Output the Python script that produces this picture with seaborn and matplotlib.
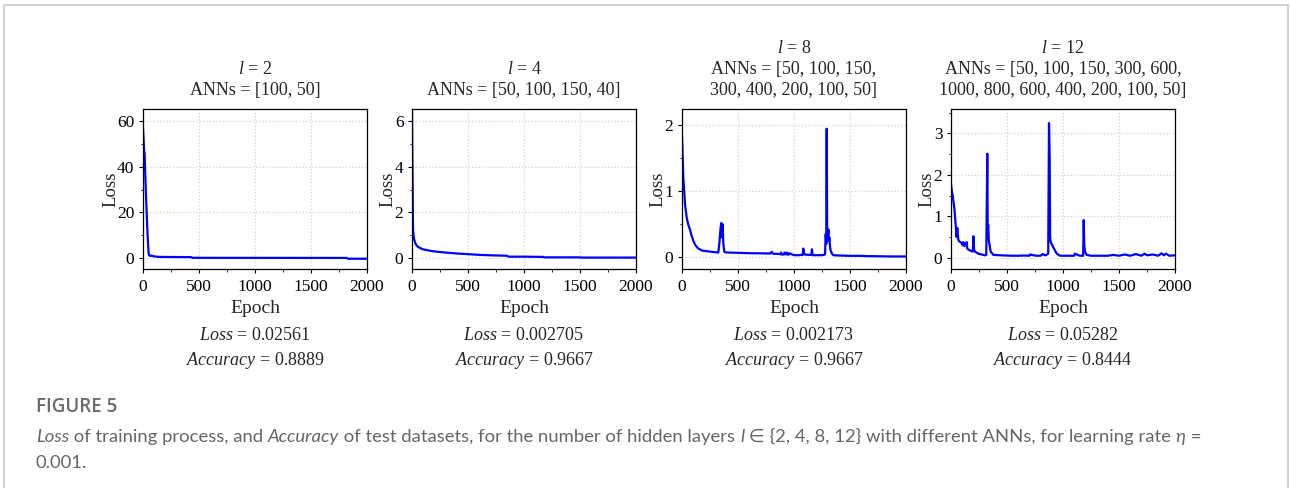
import matplotlib
matplotlib.use("Agg")
import matplotlib.pyplot as plt
import seaborn as sns
import pandas as pd
from matplotlib.ticker import MultipleLocator
from matplotlib.lines import Line2D
from matplotlib.font_manager import FontProperties

# ---------------- data ----------------
ep_l2 = [0, 5, 10, 14, 20, 27, 35, 42, 50, 55, 60, 80, 90, 120, 150, 250, 430, 440, 1000, 1820, 1830, 2000]
loss_l2 = [57.0, 52.0, 47.0, 46.0, 37.0, 27.0, 17.0, 9.0, 2.3, 1.2, 1.0, 1.0, 0.8, 0.6, 0.5, 0.45, 0.4, 0.1, 0.08, 0.05, -0.3, -0.3]

ep_l4 = [0, 2, 4, 6, 8, 10, 15, 20, 30, 40, 60, 80, 100, 150, 200, 300, 400, 500, 600, 700, 850, 860, 1000, 1170, 1180, 1500, 1510, 2000]
loss_l4 = [6.5, 5.0, 4.1, 3.0, 1.7, 1.2, 0.95, 0.8, 0.65, 0.55, 0.47, 0.42, 0.38, 0.33, 0.29, 0.24, 0.2, 0.17, 0.14, 0.12, 0.1, 0.06, 0.06, 0.05, 0.03, 0.03, 0.02, 0.02]

ep_l8 = [0, 6, 12, 20, 27, 42, 55, 71, 85, 101, 120, 146, 180, 220, 270, 324, 333, 340, 345, 351, 357, 363, 369, 378, 400, 450, 518,
         600, 700, 790, 800, 815, 850, 880, 885, 890, 910, 915, 930, 935, 950, 955, 1000, 1040, 1078, 1083, 1090, 1095, 1130, 1155, 1160,
         1166, 1200, 1250, 1277, 1283, 1288, 1292, 1296, 1300, 1307, 1312, 1316, 1322, 1327, 1340, 1351, 1400, 1500, 1600, 1650, 1700, 1800, 1900, 2000]
loss_l8 = [1.84, 1.53, 1.2, 1.0, 0.8, 0.6, 0.5, 0.42, 0.33, 0.25, 0.18, 0.13, 0.1, 0.09, 0.08, 0.07, 0.2, 0.35, 0.45, 0.52, 0.3, 0.5, 0.2, 0.08, 0.07, 0.068, 0.065,
           0.06, 0.058, 0.055, 0.08, 0.05, 0.05, 0.045, 0.07, 0.04, 0.04, 0.07, 0.04, 0.07, 0.035, 0.06, 0.03, 0.03, 0.035, 0.13, 0.06, 0.04, 0.035, 0.035, 0.12,
           0.03, 0.03, 0.03, 0.04, 0.35, 0.2, 1.95, 0.3, 0.25, 0.42, 0.25, 0.3, 0.15, 0.1, 0.05, 0.03, 0.025, 0.02, 0.02, 0.015, 0.015, 0.012, 0.01, 0.01]

ep_l12 = [0, 8, 15, 30, 42, 50, 56, 60, 65, 71, 85, 95, 105, 110, 120, 130, 140, 145, 155, 175, 195, 200, 206, 214, 244, 275, 304, 315,
          324, 328, 332, 338, 342, 354, 378, 450, 542, 600, 650, 700, 705, 760, 800, 820, 839, 850, 868, 875, 881, 885, 890, 914, 944,
          973, 1050, 1100, 1105, 1150, 1180, 1185, 1190, 1196, 1211, 1250, 1300, 1400, 1450, 1500, 1550, 1600, 1650, 1700, 1730, 1750,
          1800, 1850, 1880, 1900, 1920, 1950, 2000]
loss_l12 = [1.78, 1.6, 1.5, 1.19, 0.79, 0.5, 0.72, 0.6, 0.45, 0.4, 0.38, 0.35, 0.3, 0.38, 0.28, 0.33, 0.38, 0.22, 0.2, 0.17, 0.15, 0.52, 0.2, 0.15, 0.1, 0.08, 0.06, 0.07,
            2.51, 0.6, 0.79, 0.4, 0.35, 0.15, 0.07, 0.06, 0.05, 0.05, 0.055, 0.05, 0.08, 0.05, 0.05, 0.09, 0.06, 0.07, 0.1, 3.25, 2.43, 0.5, 0.38, 0.25, 0.1,
            0.05, 0.05, 0.05, 0.1, 0.05, 0.05, 0.91, 0.3, 0.15, 0.07, 0.05, 0.05, 0.05, 0.07, 0.05, 0.08, 0.05, 0.09, 0.05, 0.1, 0.06,
            0.08, 0.05, 0.11, 0.06, 0.1, 0.05, 0.06]

layers = [2, 4, 8, 12]
anns_text = ["ANNs = [100, 50]",
             "ANNs = [50, 100, 150, 40]",
             "ANNs = [50, 100, 150,\n300, 400, 200, 100, 50]",
             "ANNs = [50, 100, 150, 300, 600,\n1000, 800, 600, 400, 200, 100, 50]"]
final_loss = ["0.02561", "0.002705", "0.002173", "0.05282"]
accuracy = ["0.8889", "0.9667", "0.9667", "0.8444"]
epochs_all = [ep_l2, ep_l4, ep_l8, ep_l12]
losses_all = [loss_l2, loss_l4, loss_l8, loss_l12]
ylims = [(-4.8, 65.3), (-0.48, 6.53), (-0.18, 2.25), (-0.27, 3.59)]
ysteps = [20, 2, 1, 1]

# ---------------- style ----------------
sns.set_theme(style="ticks")
plt.rcParams["font.family"] = ["Liberation Serif", "DejaVu Serif"]
plt.rcParams["mathtext.fontset"] = "custom"
plt.rcParams["mathtext.rm"] = "Liberation Serif"
plt.rcParams["mathtext.it"] = "Liberation Serif:italic"

W, H = 1290, 488
fig = plt.figure(figsize=(W / 100, H / 100), dpi=100)
fig.patch.set_facecolor("white")

lefts = [143, 412, 682, 951]
top_px, bot_px, width_px = 109, 269, 224

for i in range(4):
    l = lefts[i]
    ax = fig.add_axes([l / W, 1 - bot_px / H, width_px / W, (bot_px - top_px) / H])
    df = pd.DataFrame({"Epoch": epochs_all[i], "Loss": losses_all[i]})
    sns.lineplot(data=df, x="Epoch", y="Loss", ax=ax, color="#0000ff", linewidth=1.6,
                 estimator=None, sort=False)
    ax.set_xlim(0, 2000)
    ax.set_ylim(*ylims[i])
    ax.xaxis.set_major_locator(MultipleLocator(500))
    ax.xaxis.set_minor_locator(MultipleLocator(250))
    ax.yaxis.set_major_locator(MultipleLocator(ysteps[i]))
    ax.yaxis.set_minor_locator(MultipleLocator(ysteps[i] / 2))
    ax.grid(True, which="major", color="#d4d4d4", linestyle=":", linewidth=0.9)
    ax.tick_params(which="major", direction="out", length=3.2, width=0.8, labelsize=12.5,
                   pad=3, colors="black")
    ax.tick_params(axis="x", which="major", pad=3.8)
    ax.tick_params(which="minor", direction="out", length=1.8, width=0.7)
    for s in ax.spines.values():
        s.set_visible(True)
        s.set_color("black")
        s.set_linewidth(0.9)
    ax.set_xlabel("Epoch", fontsize=14, labelpad=4)
    ax.set_ylabel("Loss", fontsize=13.5, labelpad=-1.5)
    ax.annotate(f"$l$ = {layers[i]}\n{anns_text[i]}", xy=(0.5, 1), xycoords="axes fraction",
                xytext=(0, 7), textcoords="offset points", ha="center", va="bottom",
                fontsize=13, linespacing=1.3)
    ax.annotate(f"$Loss$ = {final_loss[i]}", xy=(0.5, 0), xycoords="axes fraction",
                xytext=(0, -48), textcoords="offset points", ha="center", va="center",
                fontsize=13)
    ax.annotate(f"$Accuracy$ = {accuracy[i]}", xy=(0.5, 0), xycoords="axes fraction",
                xytext=(0, -66), textcoords="offset points", ha="center", va="center",
                fontsize=13)

# ---------------- frame ----------------
frame_col = "#cfcfcf"
fig.add_artist(Line2D([4 / W, 4 / W], [0, 1 - 5 / H], transform=fig.transFigure, color=frame_col, lw=1.3))
fig.add_artist(Line2D([4 / W, 1288 / W], [1 - 5 / H, 1 - 5 / H], transform=fig.transFigure, color=frame_col, lw=1.3))
fig.add_artist(Line2D([1288 / W, 1288 / W], [0, 1 - 5 / H], transform=fig.transFigure, color=frame_col, lw=1.3))

# ---------------- caption ----------------
cap_col = "#666666"
cap_family = ["Lato", "DejaVu Sans"]
cap_size = 13.3
fig.text(36 / W, 1 - 412 / H, "FIGURE 5", family=["Open Sans", "DejaVu Sans"], fontsize=13.5,
         fontweight="semibold", color="#6a6a6a", va="baseline", ha="left")

renderer = fig.canvas.get_renderer()


def seg_width(s, style):
    fp = FontProperties(family=cap_family, size=cap_size, style=style)
    w1 = renderer.get_text_width_height_descent("|" + s + "|", fp, False)[0]
    w0 = renderer.get_text_width_height_descent("||", fp, False)[0]
    return w1 - w0


segments = [("Loss", "italic"), (" of training process, and ", "normal"), ("Accuracy", "italic"),
            (" of test datasets, for the number of hidden layers ", "normal"), ("l", "italic"),
            (" ∈ {2, 4, 8, 12} with different ANNs, for learning rate ", "normal"), ("η", "italic"),
            (" =", "normal")]
x = 36.0
for s, st in segments:
    fig.text(x / W, 1 - 442 / H, s, family=cap_family, fontsize=cap_size, style=st, color=cap_col,
             va="baseline", ha="left")
    x += seg_width(s, st)
fig.text(36 / W, 1 - 468 / H, "0.001.", family=cap_family, fontsize=cap_size, color=cap_col,
         va="baseline", ha="left")

fig.savefig("out.png", dpi=100, facecolor="white")
